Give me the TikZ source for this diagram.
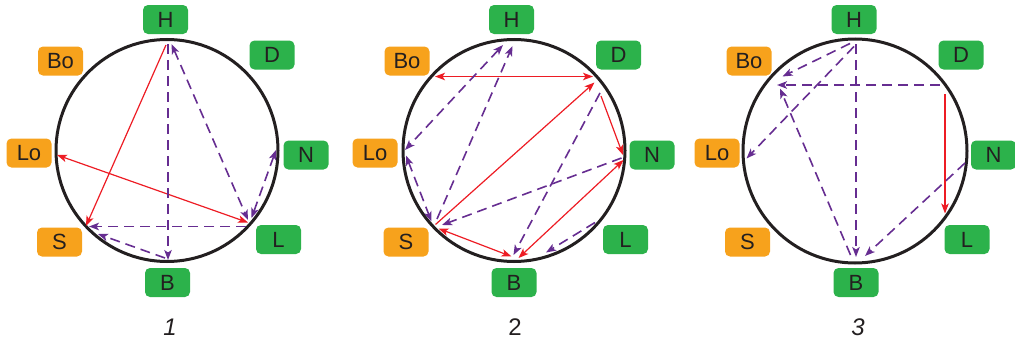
\documentclass[tikz,border=0pt]{standalone}
\usepackage{fontspec}
\setmainfont{Liberation Sans}
\usetikzlibrary{arrows.meta}
\definecolor{bgreen}{RGB}{44,178,75}
\definecolor{borange}{RGB}{247,162,28}
\definecolor{ared}{RGB}{237,28,36}
\definecolor{apurple}{RGB}{102,45,145}
\definecolor{tdark}{RGB}{35,31,32}
\tikzset{
 lbl/.style={rounded corners=5pt, minimum width=45pt, minimum height=29pt, inner sep=0pt, text=tdark, font=\fontsize{22}{22}\selectfont},
 grn/.style={lbl, fill=bgreen},
 org/.style={lbl, fill=borange},
 ring/.style={draw=tdark, line width=3pt},
 rline/.style={draw=ared, line width=1.2pt},
 pline/.style={draw=apurple, line width=1.6pt, dash pattern=on 10pt off 6pt},
 numlbl/.style={text=tdark, font=\fontsize{24}{24}\selectfont\itshape},
 >={Stealth[length=10pt,width=7.5pt,inset=2.5pt]}
}
\begin{document}
\begin{tikzpicture}[x=1pt,y=-1pt]
\useasboundingbox (0,0) rectangle (1015,340);
% ---------- circle 1 ----------
\node[ring, circle, minimum size=222pt, inner sep=0pt] (r1) at (167,150.5) {};
\node[grn] (H1) at (165.5,19.5) {H};
\node[org] (Bo1) at (60.5,61) {Bo};
\node[grn] (D1) at (272,55) {D};
\node[org] (Lo1) at (29,153) {Lo};
\node[grn] (N1) at (306,155) {N};
\node[org] (S1) at (59.5,242) {S};
\node[grn] (B1) at (167.5,282.5) {B};
\node[grn] (L1) at (278.5,239.5) {L};
\node[numlbl] (n1) at (170,327) {1};
\coordinate (a1) at (166,45);
\coordinate (a2) at (86,226);
\coordinate (a3) at (57,155);
\coordinate (a4) at (248,222.5);
\coordinate (a5) at (168,44);
\coordinate (a6) at (168,260);
\coordinate (a7) at (171.5,44);
\coordinate (a8) at (248,220);
\coordinate (a9) at (276,150);
\coordinate (a10) at (251.5,218);
\coordinate (a11) at (246,226.5);
\coordinate (a12) at (89,226.5);
\coordinate (a13) at (165,258);
\coordinate (a14) at (98,234);
\draw[rline,->] (a1) -- (a2);
\draw[rline,<->] (a3) -- (a4);
\draw[pline,->] (a5) -- (a6);
\draw[pline,<->] (a7) -- (a8);
\draw[pline,<->] (a9) -- (a10);
\draw[pline,->] (a11) -- (a12);
\draw[pline,->] (a13) -- (a14);
% ---------- circle 2 ----------
\node[ring, circle, minimum size=222pt, inner sep=0pt] (r2) at (514,150.5) {};
\node[grn] (H2) at (511.5,19.5) {H};
\node[org] (Bo2) at (407,61) {Bo};
\node[grn] (D2) at (618.5,55) {D};
\node[org] (Lo2) at (375,153) {Lo};
\node[grn] (N2) at (652,155) {N};
\node[org] (S2) at (406,242) {S};
\node[grn] (B2) at (514,282.5) {B};
\node[grn] (L2) at (625.5,239.5) {L};
\node[numlbl, font=\fontsize{24}{24}\selectfont\upshape] (n2) at (515,327) {2};
\coordinate (b1) at (435,76.5);
\coordinate (b2) at (593,76.5);
\coordinate (b3) at (435.5,224.5);
\coordinate (b4) at (594.5,82.5);
\coordinate (b5) at (601,96);
\coordinate (b6) at (623,155);
\coordinate (b7) at (438.5,228.5);
\coordinate (b8) at (511.5,256.5);
\coordinate (b9) at (518.5,258);
\coordinate (b10) at (623.5,160);
\coordinate (b11) at (503,45);
\coordinate (b12) at (405,150);
\coordinate (b13) at (437,219);
\coordinate (b14) at (512.5,46);
\coordinate (b15) at (406,155.5);
\coordinate (b16) at (431.5,221.5);
\coordinate (b17) at (621.5,158);
\coordinate (b18) at (442,225);
\coordinate (b19) at (600,93);
\coordinate (b20) at (513.5,255);
\coordinate (b21) at (595,222.5);
\coordinate (b22) at (546,252.5);
\draw[rline,<->] (b1) -- (b2);
\draw[rline,->] (b3) -- (b4);
\draw[rline,->] (b5) -- (b6);
\draw[rline,<->] (b7) -- (b8);
\draw[rline,<->] (b9) -- (b10);
\draw[pline,<->] (b11) -- (b12);
\draw[pline,->] (b13) -- (b14);
\draw[pline,<->] (b15) -- (b16);
\draw[pline,->] (b17) -- (b18);
\draw[pline,->] (b19) -- (b20);
\draw[pline,->] (b21) -- (b22);
% ---------- circle 3 ----------
\node[ring, circle, minimum size=224pt, inner sep=0pt] (r3) at (855,151) {};
\node[grn] (H3) at (854,19.5) {H};
\node[org] (Bo3) at (749,61) {Bo};
\node[grn] (D3) at (961,55) {D};
\node[org] (Lo3) at (717,153) {Lo};
\node[grn] (N3) at (993.5,155) {N};
\node[org] (S3) at (747.5,242) {S};
\node[grn] (B3) at (856,282.5) {B};
\node[grn] (L3) at (967,239.5) {L};
\node[numlbl] (n3) at (858,327) {3};
\coordinate (c1) at (945,94);
\coordinate (c2) at (945,213.5);
\coordinate (c3) at (856,44);
\coordinate (c4) at (856,257);
\coordinate (c5) at (850,43.5);
\coordinate (c6) at (782.5,76.5);
\coordinate (c7) at (854,46.5);
\coordinate (c8) at (746.5,158.5);
\coordinate (c9) at (940,85);
\coordinate (c10) at (777,85);
\coordinate (c11) at (850.5,255);
\coordinate (c12) at (780,88.5);
\coordinate (c13) at (965,163);
\coordinate (c14) at (865,256);
\draw[rline,->] (c1) -- (c2);
\draw[pline,->] (c3) -- (c4);
\draw[pline,->] (c5) -- (c6);
\draw[pline,->] (c7) -- (c8);
\draw[pline,->] (c9) -- (c10);
\draw[pline,->] (c11) -- (c12);
\draw[pline,->] (c13) -- (c14);
\end{tikzpicture}
\end{document}
